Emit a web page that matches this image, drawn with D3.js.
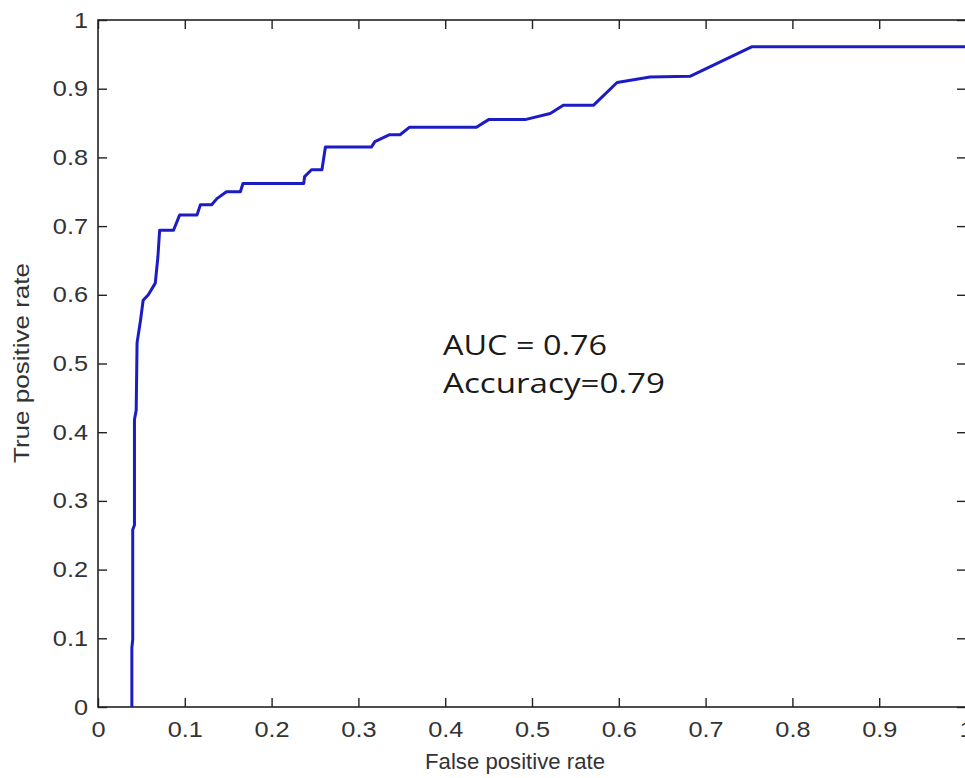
<!DOCTYPE html>
<html>
<head>
<meta charset="utf-8">
<script src="https://cdn.jsdelivr.net/npm/d3@7"></script>
<style>
  html, body { margin: 0; padding: 0; background: #ffffff; }
  svg { display: block; }
</style>
</head>
<body>
<script>
// ---- data ----
const fpr = [0.039, 0.039, 0.040, 0.040, 0.042, 0.042, 0.044, 0.045, 0.049, 0.052, 0.058, 0.066, 0.069, 0.071,
             0.087, 0.094, 0.114, 0.118, 0.131, 0.137, 0.148, 0.164, 0.167, 0.237, 0.238, 0.246, 0.258, 0.262,
             0.315, 0.319, 0.336, 0.348, 0.359, 0.436, 0.450, 0.492, 0.521, 0.536, 0.571, 0.598, 0.636, 0.682,
             0.753, 1.0];
const tpr = [0.000, 0.086, 0.098, 0.258, 0.265, 0.418, 0.432, 0.530, 0.563, 0.592, 0.600, 0.617, 0.655, 0.694,
             0.694, 0.716, 0.716, 0.731, 0.731, 0.740, 0.750, 0.750, 0.762, 0.762, 0.772, 0.782, 0.782, 0.815,
             0.815, 0.823, 0.833, 0.833, 0.844, 0.844, 0.855, 0.855, 0.864, 0.876, 0.876, 0.909, 0.917, 0.918,
             0.961, 0.961];
const xTicks = [0, 0.1, 0.2, 0.3, 0.4, 0.5, 0.6, 0.7, 0.8, 0.9, 1];
const yTicks = [0, 0.1, 0.2, 0.3, 0.4, 0.5, 0.6, 0.7, 0.8, 0.9, 1];
const xLabel = "False positive rate";
const yLabel = "True positive rate";
const annotations = ["AUC = 0.76", "Accuracy=0.79"];

// ---- layout ----
const W = 965, H = 778;
const L = 98, T = 20, R = 966, B = 707;

const svg = d3.select("body").append("svg")
  .attr("width", W).attr("height", H)
  .attr("viewBox", `0 0 ${W} ${H}`);

svg.append("rect").attr("width", W).attr("height", H).attr("fill", "#ffffff");

const x = d3.scaleLinear().domain([0, 1]).range([L, R]);
const y = d3.scaleLinear().domain([0, 1]).range([B, T]);

const fmt = d => (d === 0 || d === 1) ? String(d) : d3.format(".1f")(d);
const tickFont = "'Liberation Sans', Arial, sans-serif";
const axisColor = "#222";
const stretch = 1.15;

function styleAxis(g, hideLabels) {
  g.select(".domain").remove();
  g.selectAll(".tick line").attr("stroke", axisColor).attr("stroke-width", 1.4);
  g.selectAll(".tick text")
    .attr("fill", "#333")
    .attr("transform", `scale(${stretch},1)`)
    .style("font-family", tickFont)
    .style("font-size", "22px");
  if (hideLabels) g.selectAll(".tick text").remove();
}

// bottom axis
svg.append("g").attr("transform", `translate(0,${B})`)
  .call(d3.axisBottom(x).tickValues(xTicks).tickFormat(fmt).tickSizeInner(-9).tickSizeOuter(0).tickPadding(14))
  .call(g => styleAxis(g, false));
// top axis (ticks only)
svg.append("g").attr("transform", `translate(0,${T})`)
  .call(d3.axisTop(x).tickValues(xTicks).tickSizeInner(-9).tickSizeOuter(0))
  .call(g => styleAxis(g, true));
// left axis
svg.append("g").attr("transform", `translate(${L},0)`)
  .call(d3.axisLeft(y).tickValues(yTicks).tickFormat(fmt).tickSizeInner(-9).tickSizeOuter(0).tickPadding(8.7))
  .call(g => styleAxis(g, false));
// right axis (ticks only)
svg.append("g").attr("transform", `translate(${R},0)`)
  .call(d3.axisRight(y).tickValues(yTicks).tickSizeInner(-9).tickSizeOuter(0))
  .call(g => styleAxis(g, true));

// frame
svg.append("rect")
  .attr("x", L).attr("y", T).attr("width", R - L).attr("height", B - T)
  .attr("fill", "none").attr("stroke", axisColor).attr("stroke-width", 1.6);

// ROC curve
const pts = fpr.map((f, i) => [f, tpr[i]]);
svg.append("path")
  .datum(pts)
  .attr("fill", "none")
  .attr("stroke", "#1c1cc4")
  .attr("stroke-width", 3)
  .attr("stroke-linejoin", "round")
  .attr("d", d3.line().x(d => x(d[0])).y(d => y(d[1])));

// axis labels
svg.append("text")
  .attr("x", 515).attr("y", 769)
  .attr("text-anchor", "middle")
  .attr("fill", "#333")
  .attr("textLength", 180).attr("lengthAdjust", "spacingAndGlyphs")
  .style("font-family", tickFont).style("font-size", "22px")
  .text(xLabel);

svg.append("text")
  .attr("transform", "translate(29,363) rotate(-90)")
  .attr("text-anchor", "middle")
  .attr("fill", "#333")
  .attr("textLength", 200).attr("lengthAdjust", "spacingAndGlyphs")
  .style("font-family", tickFont).style("font-size", "22px")
  .text(yLabel);

// annotations
const annFont = "'Open Sans', 'Noto Sans', sans-serif";
const annWidths = [164, 222];
const annBase = [355, 393];
annotations.forEach((t, i) => {
  svg.append("text")
    .attr("x", 443).attr("y", annBase[i])
    .attr("fill", "#1a1a1a")
    .attr("textLength", annWidths[i]).attr("lengthAdjust", "spacingAndGlyphs")
    .style("font-family", annFont).style("font-size", "27px")
    .text(t);
});
</script>
</body>
</html>
